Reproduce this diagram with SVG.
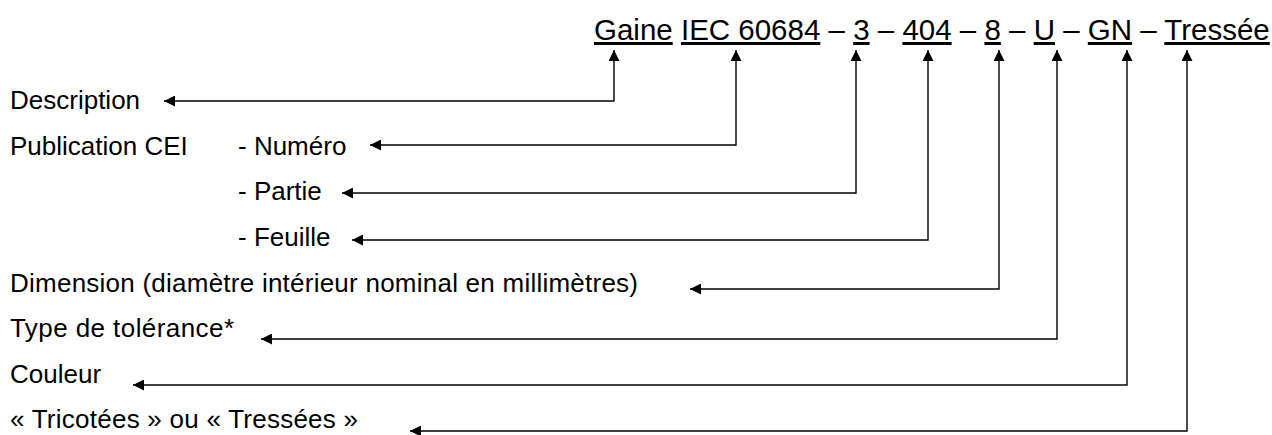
<svg xmlns="http://www.w3.org/2000/svg" width="1272" height="435" viewBox="0 0 1272 435">
<defs>
<marker id="ah" viewBox="0 0 10 10" refX="10" refY="5" markerWidth="11" markerHeight="11" markerUnits="userSpaceOnUse" orient="auto-start-reverse"><path d="M0,0 L10,5 L0,10 z" fill="#000"/></marker>
</defs>
<style>
text{font-family:"Liberation Sans",Arial,sans-serif;fill:#000}
.lbl{font-size:26px}
.code{font-size:29.5px}
.u{text-decoration:underline}
.conn{fill:none;stroke:#000;stroke-width:1.4;marker-start:url(#ah);marker-end:url(#ah)}
</style>
<rect width="1272" height="435" fill="#fff"/>
<g id="code"><text class="code" x="594" y="40"><tspan class="u">Gaine</tspan> <tspan class="u">IEC 60684</tspan> – <tspan class="u">3</tspan> – <tspan class="u">404</tspan> – <tspan class="u">8</tspan> – <tspan class="u">U</tspan> – <tspan class="u">GN</tspan> – <tspan class="u">Tressée</tspan></text></g>
<g id="description"><text class="lbl" x="10" y="109">Description</text></g>
<g id="publication"><text class="lbl" x="10" y="155">Publication CEI</text></g>
<g id="numero"><text class="lbl" x="238" y="155">- Numéro</text></g>
<g id="partie"><text class="lbl" x="238" y="200">- Partie</text></g>
<g id="feuille"><text class="lbl" x="238" y="246">- Feuille</text></g>
<g id="dimension"><text class="lbl" x="10" y="292" textLength="628" lengthAdjust="spacing">Dimension (diamètre intérieur nominal en millimètres)</text></g>
<g id="tolerance"><text class="lbl" x="10" y="337" textLength="224" lengthAdjust="spacing">Type de tolérance*</text></g>
<g id="couleur"><text class="lbl" x="10" y="383">Couleur</text></g>
<g id="tricotees"><text class="lbl" x="10" y="428" textLength="348" lengthAdjust="spacing">« Tricotées » ou « Tressées »</text></g>
<g id="connectors">
<path class="conn" d="M164,101 H614 V50"/>
<path class="conn" d="M370,145 H736 V50"/>
<path class="conn" d="M342,193 H856 V50"/>
<path class="conn" d="M352,240 H928 V50"/>
<path class="conn" d="M690,289 H999 V50"/>
<path class="conn" d="M261,339 H1057 V50"/>
<path class="conn" d="M133,385 H1127 V50"/>
<path class="conn" d="M410,431 H1187 V50"/>
</g>
</svg>
